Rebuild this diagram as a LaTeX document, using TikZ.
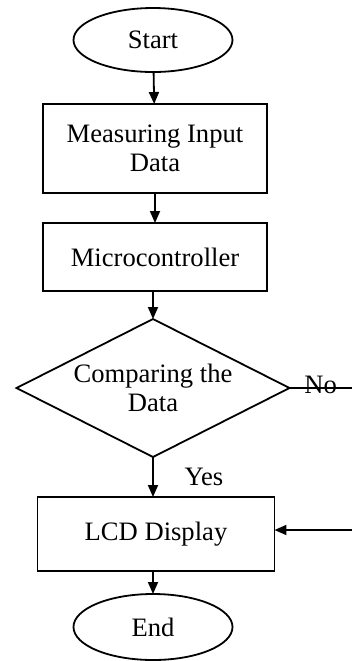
\documentclass[tikz,border=0pt]{standalone}
\usepackage{fontspec}
\setmainfont{Liberation Serif}
\usepackage{tikz}
\usetikzlibrary{shapes.geometric,arrows.meta,positioning}
\tikzset{
  startstop/.style={
    ellipse,
    minimum width=79.5pt,
    minimum height=32pt,
    inner sep=0pt,
    outer sep=0pt,
    draw=black
    },
  process/.style={
    rectangle,
    minimum width=112pt,
    minimum height=34pt,
    inner sep=0pt,
    outer sep=0pt,
    align=center,
    draw=black
    },
  decision/.style={
    diamond,
    aspect=2,
    minimum width=136.5pt,
    minimum height=69pt,
    inner sep=0pt,
    outer sep=0pt,
    align=center,
    draw=black
    },
  arrow/.style={-{Triangle[width=5pt,length=6pt]}},
}

\begin{document}
\begin{tikzpicture}[
            line width=0.9pt, % line style
            font=\fontsize{13.3}{14.5}\selectfont
        ]
         \useasboundingbox (0,0) rectangle (176pt,-330.5pt);
         \coordinate (edge) at (176pt,0);

         \node[startstop] (start) at (76.5pt,-20pt) {Start};
         \node[process, minimum height=44.5pt] (meas) [below=16pt of start, xshift=1pt] {Measuring Input\\Data};
         \node[process] (micro) [below=15pt of meas] {Microcontroller};
         \node[decision] (comp) [below=14pt of micro, xshift=-1pt] {Comparing the\\Data};
         \node[process, minimum width=118.5pt, minimum height=37pt] (lcd) [below=20pt of comp, xshift=1.5pt] {LCD Display};
         \node[startstop, minimum height=33pt] (end) [below=11.5pt of lcd, xshift=-1.5pt] {End};

         \coordinate (noout) at (comp.east -| edge);
         \coordinate (lcdin) at ([yshift=2pt]lcd.east -| edge);

         \draw[arrow] (start) -- (meas);
         \draw[arrow] (meas) -- (micro);
         \draw[arrow] (micro.south -| comp.north) -- (comp);
         \draw[arrow] (comp) -- node[anchor=west, xshift=12pt] {Yes} (lcd.north -| comp.south);
         \draw (comp.east) -- node[yshift=1.5pt] {No} (noout);
         \draw[arrow] (lcdin) -- ([yshift=2pt]lcd.east);
         \draw[arrow] (lcd.south -| end.north) -- (end);
  \end{tikzpicture}
\end{document}
